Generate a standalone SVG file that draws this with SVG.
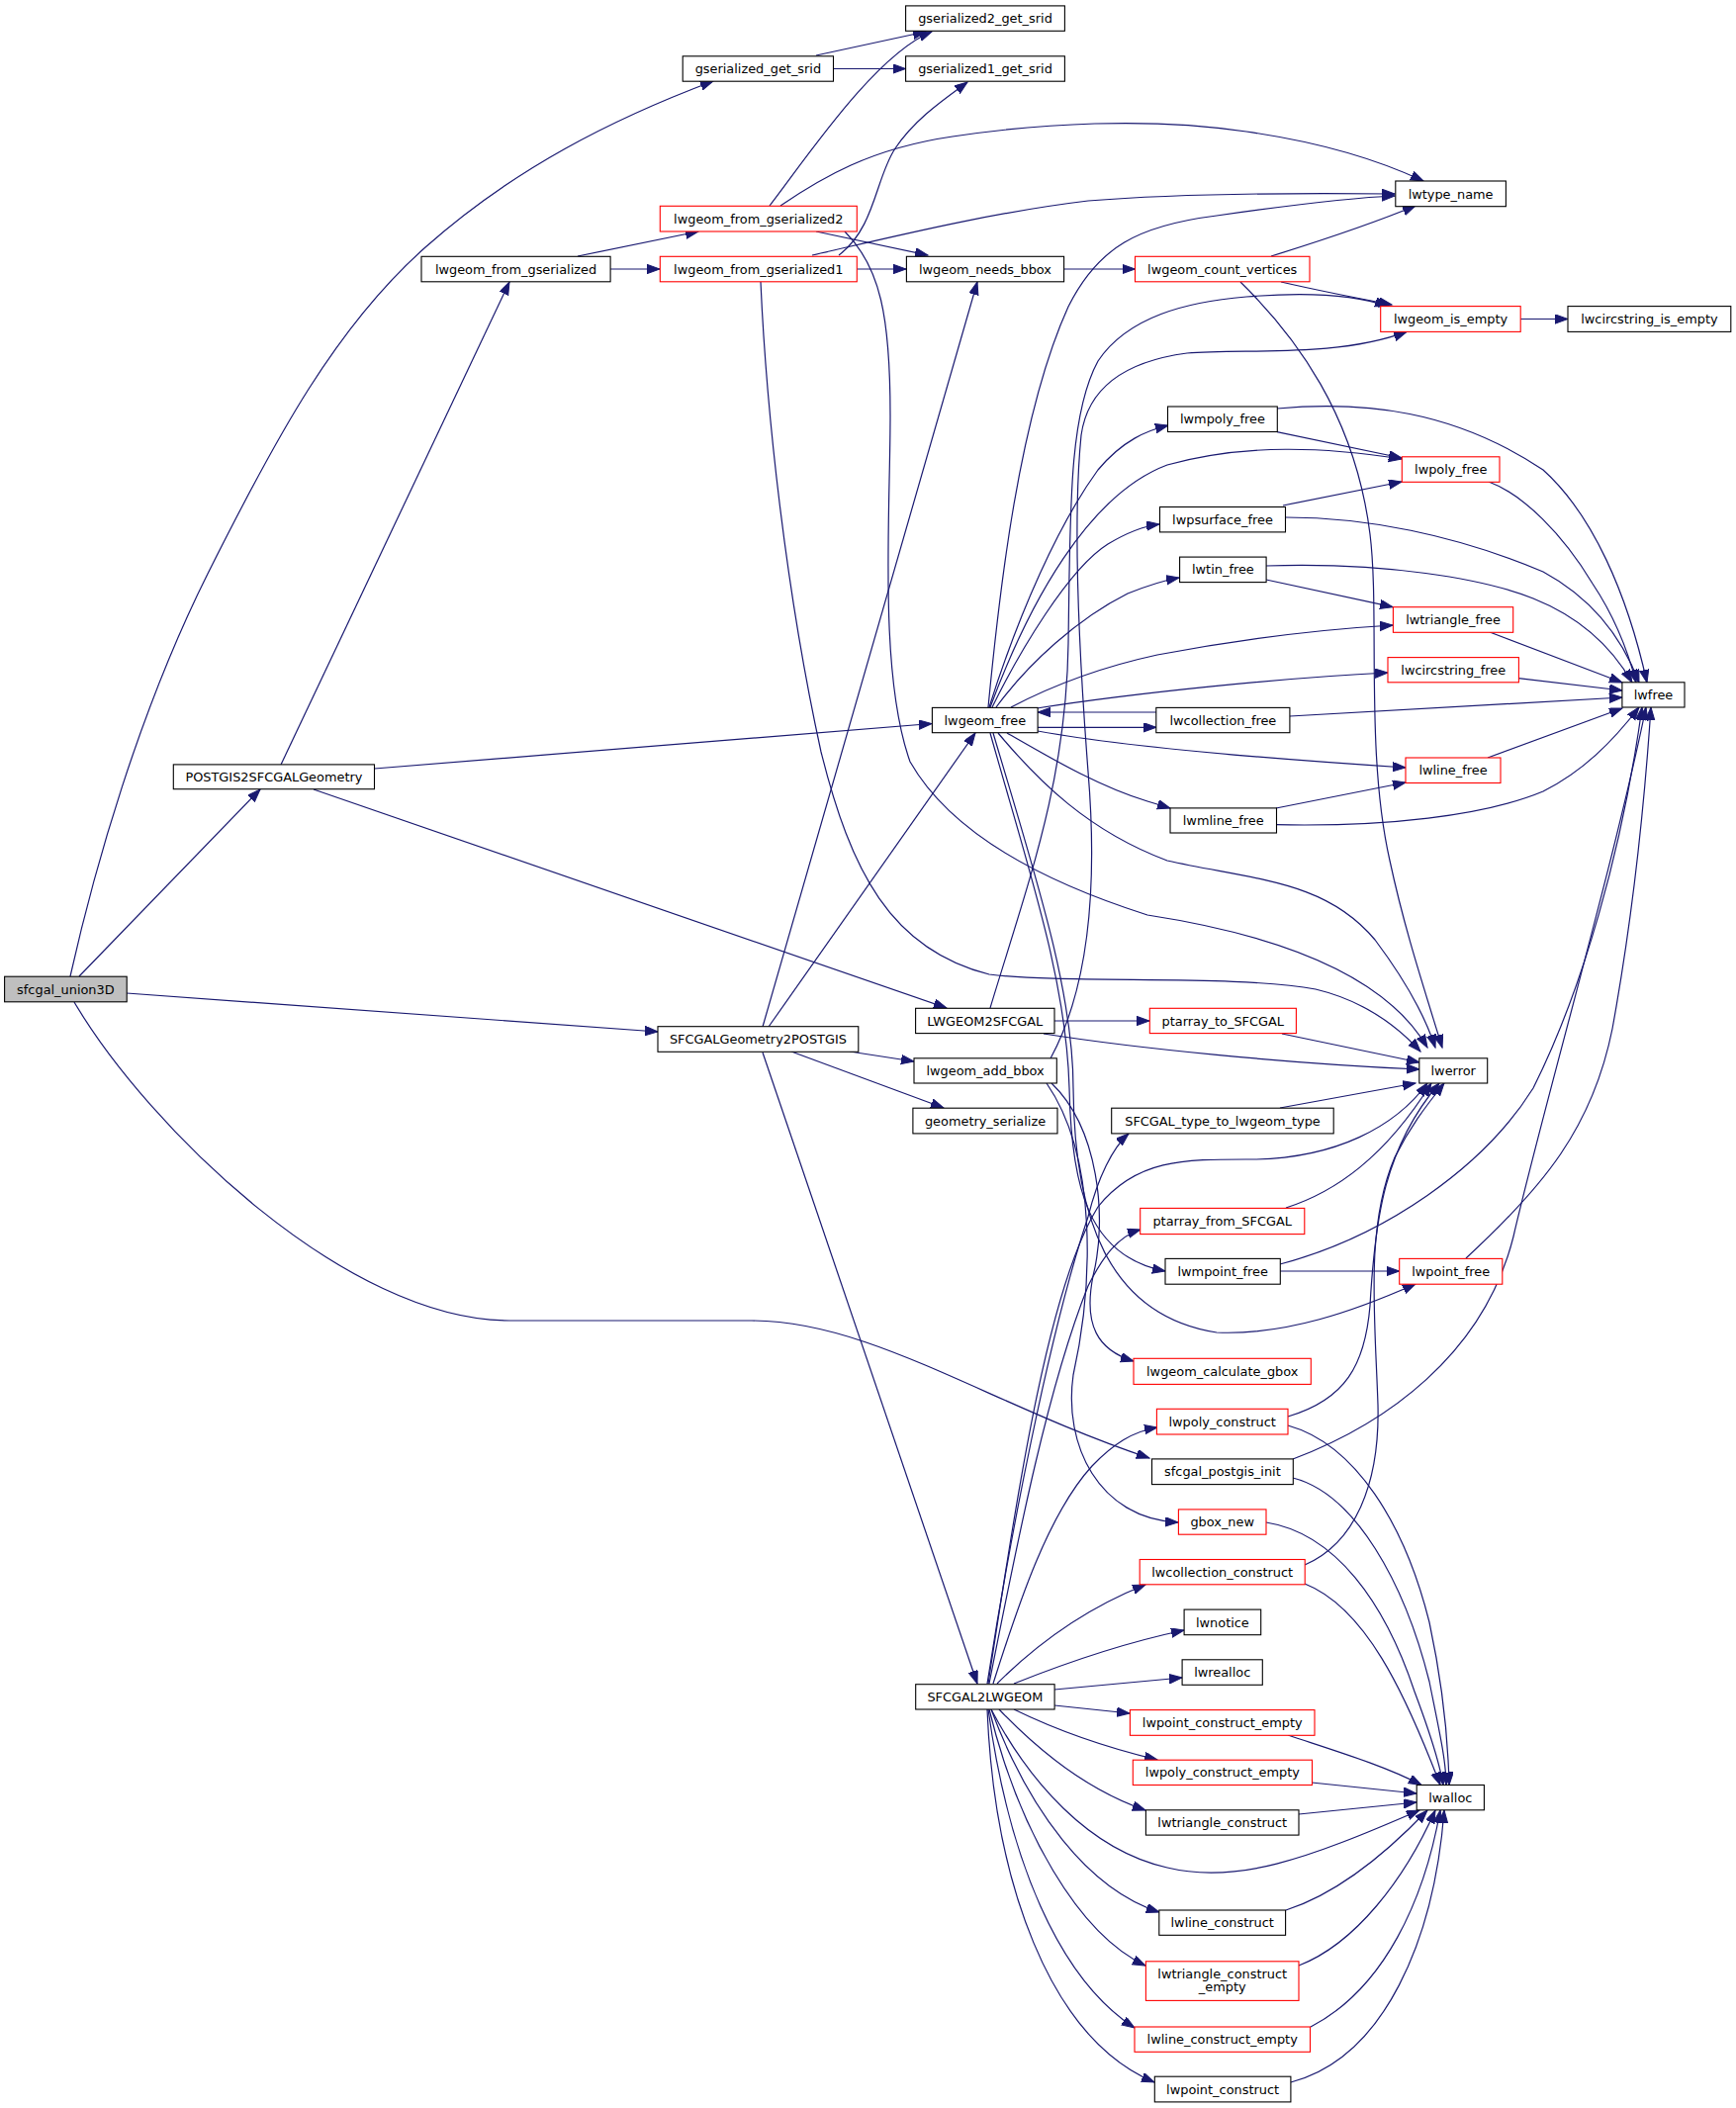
<svg xmlns="http://www.w3.org/2000/svg" width="1755" height="2131" viewBox="0 0 1755 2131">
<defs>
<style>
.n rect{fill:#ffffff;stroke:#000000;stroke-width:1.1}
.n.t rect{stroke:#ff0000}
.n.r rect{fill:#bfbfbf}
text{font-family:"DejaVu Sans","Liberation Sans",sans-serif;font-size:12.9px;text-anchor:middle;fill:#000000}
.e path{fill:none;stroke:#191970;stroke-width:1.2;marker-end:url(#a)}
</style>
<marker id="a" markerUnits="userSpaceOnUse" markerWidth="16" markerHeight="12" refX="13" refY="4.7" orient="auto">
<path d="M0,0 L13,4.7 L0,9.4 Z" fill="#191970" stroke="#191970" stroke-width="1"/>
</marker>
</defs>
<rect width="1755" height="2131" fill="#ffffff"/>
<g id="edges" class="e">
<path d="M71,987 C95,880 140,720 210,580 C280,440 340,330 430,250 C520,170 620,120 721,82"/>
<path d="M80,987 L263,798"/>
<path d="M128,1004 L665,1043"/>
<path d="M75,1013 C150,1140 350,1335 515,1335 L760,1335 C880,1335 1000,1420 1162,1474"/>
<path d="M284,773 L515,285"/>
<path d="M378.5,777 L942,731.5"/>
<path d="M317,798 L957,1019"/>
<path d="M584,259 L706,234"/>
<path d="M617,272 L667,272"/>
<path d="M778,208 C815,160 885,55 942,32"/>
<path d="M789,208 C830,180 880,150 963,138 C1050,125 1160,118 1260,133 C1330,143 1390,160 1439,183"/>
<path d="M825,234 L938,258"/>
<path d="M854,234 C890,270 900,320 900,420 C900,520 888,680 920,770 C960,840 1050,890 1160,925 C1290,945 1400,985 1443,1059"/>
<path d="M848,258 C885,230 885,180 905,150 C925,120 955,100 978,83"/>
<path d="M821,258 C900,240 1000,215 1100,203 C1200,195 1320,195 1410,196"/>
<path d="M866,272 L916,272"/>
<path d="M769,285 C775,420 795,600 830,760 C860,880 900,960 1000,985 C1080,995 1250,985 1330,1000 C1380,1012 1415,1040 1436,1063"/>
<path d="M825,56 L936,32"/>
<path d="M842.5,69.5 L915.6,69.5"/>
<path d="M1075.6,272 L1147.5,272"/>
<path d="M1285,259 C1330,245 1390,225 1431,208"/>
<path d="M1295,285 C1330,293 1370,301 1407,308"/>
<path d="M1254,285 C1310,340 1370,420 1385,540 C1395,620 1380,760 1405,870 C1420,940 1440,1000 1458,1059"/>
<path d="M1537,322.5 L1585,322.5"/>
<path d="M999,715 C1010,600 1030,420 1080,310 C1110,250 1150,228 1230,218 C1300,208 1360,200 1410,198"/>
<path d="M1000,715 C1030,620 1070,530 1110,475 C1135,445 1160,435 1181,430"/>
<path d="M1001,715 C1040,610 1100,500 1180,470 C1260,448 1340,452 1417,464"/>
<path d="M1003,715 C1030,660 1080,575 1120,550 C1140,538 1155,532 1172,530"/>
<path d="M1007,715 C1040,670 1090,625 1140,600 C1160,592 1175,587 1192,584"/>
<path d="M1022,715 C1060,695 1110,675 1170,662 C1260,645 1340,636 1408,632"/>
<path d="M1048,716 C1150,700 1300,685 1403,680"/>
<path d="M1169,720 L1049,720"/>
<path d="M1049,735.3 L1169,735.3"/>
<path d="M1049,739 C1120,752 1250,765 1421,776"/>
<path d="M1018,741 C1060,765 1110,795 1160,810 L1183,817"/>
<path d="M1009,741 C1050,790 1100,840 1180,870 C1270,890 1340,890 1390,950 C1420,990 1440,1025 1451,1059"/>
<path d="M1001,741 C1040,880 1078,990 1081,1100 C1083,1200 1100,1270 1178,1285"/>
<path d="M1004,741 C1045,880 1085,1000 1085,1100 C1086,1230 1120,1330 1230,1347 C1300,1350 1370,1325 1431,1298"/>
<path d="M1291,436.6 L1417,463"/>
<path d="M1291,413 C1380,405 1470,415 1560,475 C1610,520 1645,600 1665,690"/>
<path d="M1297,511 L1417,487"/>
<path d="M1300,523 C1380,523 1470,540 1560,578 C1610,605 1640,645 1657,690"/>
<path d="M1505,487 C1540,500 1580,540 1610,590 C1630,620 1645,655 1654,690"/>
<path d="M1280,572 C1400,568 1500,585 1550,605 C1600,625 1630,655 1650,690"/>
<path d="M1280,586 L1408,613.7"/>
<path d="M1506,639 L1640,690"/>
<path d="M1535,685.6 L1640,698"/>
<path d="M1304,724 L1640,705"/>
<path d="M1504,766 L1640,716"/>
<path d="M1290,833.7 C1400,836 1500,825 1560,800 C1600,780 1630,750 1657,715"/>
<path d="M1290,817 L1421,791"/>
<path d="M1066,1032 L1162,1032"/>
<path d="M1055,1045 C1150,1060 1300,1075 1435,1081"/>
<path d="M1296,1045 L1435,1074"/>
<path d="M1001,1019 C1040,890 1078,790 1080,650 C1082,520 1080,420 1110,365 C1140,320 1200,305 1260,300 C1320,295 1370,298 1403,309.6"/>
<path d="M1062,1070 C1100,1000 1110,900 1100,780 C1090,650 1085,520 1093,440 C1100,390 1140,365 1200,357 C1260,352 1350,362 1422,335.4"/>
<path d="M771,1038 L988,285"/>
<path d="M777,1038 L986,741"/>
<path d="M859,1063 L924,1073"/>
<path d="M800,1063 L954,1120"/>
<path d="M771,1064 L988,1702"/>
<path d="M1063,1095 C1110,1140 1120,1230 1105,1290 C1095,1340 1110,1365 1146,1376"/>
<path d="M1058,1095 C1110,1170 1105,1300 1085,1390 C1075,1460 1110,1535 1191,1539"/>
<path d="M1294,1120 L1431,1095"/>
<path d="M1300,1221 C1350,1205 1400,1170 1447,1095"/>
<path d="M1302,1432 C1360,1415 1380,1380 1385,1320 C1390,1230 1400,1160 1455,1095"/>
<path d="M1319,1582 C1370,1560 1395,1500 1393,1420 C1390,1330 1380,1240 1410,1170 C1425,1140 1440,1120 1460,1095"/>
<path d="M1294,1285 L1414.7,1285"/>
<path d="M1294,1278 C1400,1250 1500,1180 1550,1100 C1600,1000 1640,860 1660,715"/>
<path d="M1482,1272 C1560,1200 1610,1140 1630,1040 C1650,930 1662,820 1669,715"/>
<path d="M1307,1475 C1400,1440 1500,1370 1530,1250 C1560,1120 1630,880 1664,715"/>
<path d="M998,1702 C1020,1560 1060,1350 1100,1230 C1110,1190 1125,1160 1141,1146"/>
<path d="M999,1702 C1030,1500 1060,1300 1110,1220 C1150,1170 1200,1172 1270,1172 C1350,1170 1410,1140 1443,1095"/>
<path d="M1000,1702 C1030,1550 1060,1400 1100,1300 C1115,1270 1130,1250 1153,1243"/>
<path d="M1004,1702 C1030,1620 1060,1530 1104,1482 C1125,1460 1145,1447 1170,1443"/>
<path d="M1008,1702 C1050,1660 1100,1625 1158,1602"/>
<path d="M1025,1702 C1080,1680 1140,1660 1197,1648"/>
<path d="M1066,1708 L1195,1696"/>
<path d="M1066,1724 L1142,1732"/>
<path d="M1025,1728 C1070,1750 1120,1767 1170,1779"/>
<path d="M1010,1728 C1050,1770 1100,1810 1158,1830"/>
<path d="M1002,1728 C1040,1800 1100,1870 1180,1888 C1250,1905 1320,1880 1435,1830"/>
<path d="M1002,1728 C1040,1830 1100,1910 1172,1933"/>
<path d="M1000,1728 C1030,1850 1090,1955 1158,1987"/>
<path d="M999,1728 C1020,1880 1070,2000 1147,2050"/>
<path d="M998,1728 C1005,1900 1060,2060 1167,2105"/>
<path d="M1302,1754 C1350,1770 1400,1785 1437,1804.5"/>
<path d="M1326,1802 L1432,1813"/>
<path d="M1313,1834 L1432,1822"/>
<path d="M1300,1931 C1350,1915 1400,1875 1443,1830"/>
<path d="M1313,1987 C1370,1965 1420,1900 1451,1830"/>
<path d="M1325,2049 C1400,2010 1440,1920 1456,1830"/>
<path d="M1305,2105 C1400,2080 1450,1960 1460,1830"/>
<path d="M1302,1441 C1370,1460 1420,1540 1445,1640 C1460,1710 1464,1760 1465,1804.5"/>
<path d="M1307,1494 C1370,1510 1420,1600 1445,1700 C1455,1750 1462,1780 1462,1804.5"/>
<path d="M1280,1539 C1350,1550 1400,1620 1430,1710 C1445,1750 1455,1780 1459,1804.5"/>
<path d="M1319,1601 C1380,1625 1420,1710 1456,1804.5"/>
</g>
<g id="sfcgal_union3D" class="n r"><rect x="4.6" y="987.2" width="123.6" height="25.6"/><text x="66.4" y="1004.6">sfcgal_union3D</text></g>
<g id="gserialized_get_srid" class="n"><rect x="690.2" y="56.8" width="152.3" height="25.4"/><text x="766.4" y="74.1">gserialized_get_srid</text></g>
<g id="gserialized2_get_srid" class="n"><rect x="915.6" y="5.9" width="160.8" height="25.4"/><text x="996" y="23.2">gserialized2_get_srid</text></g>
<g id="gserialized1_get_srid" class="n"><rect x="915.6" y="56.8" width="160.8" height="25.4"/><text x="996" y="74.1">gserialized1_get_srid</text></g>
<g id="lwgeom_from_gserialized2" class="n t"><rect x="667.3" y="208.3" width="199" height="25.7"/><text x="766.8" y="225.8">lwgeom_from_gserialized2</text></g>
<g id="lwgeom_from_gserialized1" class="n t"><rect x="667.3" y="259.3" width="199" height="25.5"/><text x="766.8" y="276.6">lwgeom_from_gserialized1</text></g>
<g id="lwgeom_from_gserialized" class="n"><rect x="426" y="259.3" width="191.1" height="25.5"/><text x="521.5" y="276.6">lwgeom_from_gserialized</text></g>
<g id="lwgeom_needs_bbox" class="n"><rect x="916.4" y="259.3" width="159.2" height="25.5"/><text x="996" y="276.6">lwgeom_needs_bbox</text></g>
<g id="lwgeom_count_vertices" class="n t"><rect x="1147.5" y="259.3" width="176.5" height="25.5"/><text x="1235.7" y="276.6">lwgeom_count_vertices</text></g>
<g id="lwtype_name" class="n"><rect x="1410.8" y="183" width="111.6" height="25.7"/><text x="1466.6" y="200.5">lwtype_name</text></g>
<g id="lwgeom_is_empty" class="n t"><rect x="1395.7" y="309.6" width="141.5" height="25.8"/><text x="1466.5" y="327.1">lwgeom_is_empty</text></g>
<g id="lwcircstring_is_empty" class="n"><rect x="1585" y="309.6" width="164.8" height="25.8"/><text x="1667.4" y="327.1">lwcircstring_is_empty</text></g>
<g id="lwmpoly_free" class="n"><rect x="1180.5" y="411" width="110.8" height="25.5"/><text x="1235.9" y="428.3">lwmpoly_free</text></g>
<g id="lwpoly_free" class="n t"><rect x="1417.3" y="461.8" width="98.7" height="25.5"/><text x="1466.7" y="479.1">lwpoly_free</text></g>
<g id="lwpsurface_free" class="n"><rect x="1172.5" y="512.5" width="127" height="25.4"/><text x="1236" y="529.8">lwpsurface_free</text></g>
<g id="lwtin_free" class="n"><rect x="1192.6" y="563.1" width="87.5" height="25.5"/><text x="1236.4" y="580.4">lwtin_free</text></g>
<g id="lwtriangle_free" class="n t"><rect x="1408.4" y="613.7" width="121.3" height="25.6"/><text x="1469" y="631.1">lwtriangle_free</text></g>
<g id="lwcircstring_free" class="n t"><rect x="1403" y="664.6" width="132.4" height="25.2"/><text x="1469.2" y="681.8">lwcircstring_free</text></g>
<g id="lwfree" class="n"><rect x="1639.9" y="689.8" width="63.1" height="25.2"/><text x="1671.5" y="707">lwfree</text></g>
<g id="lwgeom_free" class="n"><rect x="942.4" y="715.4" width="106.7" height="25.3"/><text x="995.8" y="732.6">lwgeom_free</text></g>
<g id="lwcollection_free" class="n"><rect x="1168.8" y="715.4" width="135.1" height="25.3"/><text x="1236.4" y="732.6">lwcollection_free</text></g>
<g id="lwline_free" class="n t"><rect x="1421" y="766" width="96" height="25.5"/><text x="1469" y="783.3">lwline_free</text></g>
<g id="POSTGIS2SFCGALGeometry" class="n"><rect x="175.3" y="772.9" width="203.2" height="24.8"/><text x="276.9" y="789.9">POSTGIS2SFCGALGeometry</text></g>
<g id="lwmline_free" class="n"><rect x="1183" y="816.9" width="107.5" height="25.1"/><text x="1236.7" y="834">lwmline_free</text></g>
<g id="LWGEOM2SFCGAL" class="n"><rect x="925.6" y="1019.3" width="140.4" height="25.3"/><text x="995.8" y="1036.5">LWGEOM2SFCGAL</text></g>
<g id="ptarray_to_SFCGAL" class="n t"><rect x="1162.3" y="1019.3" width="148.1" height="25.3"/><text x="1236.3" y="1036.5">ptarray_to_SFCGAL</text></g>
<g id="SFCGALGeometry2POSTGIS" class="n"><rect x="665" y="1037.7" width="202.8" height="25.6"/><text x="766.4" y="1055.1">SFCGALGeometry2POSTGIS</text></g>
<g id="lwgeom_add_bbox" class="n"><rect x="924" y="1069.8" width="144.3" height="25.2"/><text x="996.1" y="1087">lwgeom_add_bbox</text></g>
<g id="lwerror" class="n"><rect x="1434.8" y="1069.8" width="68.9" height="25.2"/><text x="1469.2" y="1087">lwerror</text></g>
<g id="geometry_serialize" class="n"><rect x="922.9" y="1120.2" width="146.1" height="25.7"/><text x="996" y="1137.7">geometry_serialize</text></g>
<g id="SFCGAL_type_to_lwgeom_type" class="n"><rect x="1123.7" y="1120.2" width="224.5" height="25.7"/><text x="1236" y="1137.7">SFCGAL_type_to_lwgeom_type</text></g>
<g id="ptarray_from_SFCGAL" class="n t"><rect x="1152.7" y="1221.4" width="166.1" height="26.2"/><text x="1235.7" y="1239.1">ptarray_from_SFCGAL</text></g>
<g id="lwmpoint_free" class="n"><rect x="1178" y="1272.4" width="116.3" height="25.8"/><text x="1236.2" y="1289.9">lwmpoint_free</text></g>
<g id="lwpoint_free" class="n t"><rect x="1414.7" y="1272.4" width="104.1" height="25.8"/><text x="1466.7" y="1289.9">lwpoint_free</text></g>
<g id="lwgeom_calculate_gbox" class="n t"><rect x="1146" y="1373.3" width="179.3" height="26.1"/><text x="1235.7" y="1391">lwgeom_calculate_gbox</text></g>
<g id="lwpoly_construct" class="n t"><rect x="1169.4" y="1424.3" width="132.6" height="25.7"/><text x="1235.7" y="1441.8">lwpoly_construct</text></g>
<g id="sfcgal_postgis_init" class="n"><rect x="1164.5" y="1474.9" width="142.8" height="25.7"/><text x="1235.9" y="1492.4">sfcgal_postgis_init</text></g>
<g id="gbox_new" class="n t"><rect x="1191.4" y="1525.9" width="88.6" height="25.3"/><text x="1235.7" y="1543.1">gbox_new</text></g>
<g id="lwcollection_construct" class="n t"><rect x="1152.2" y="1576.5" width="167" height="25.3"/><text x="1235.7" y="1593.7">lwcollection_construct</text></g>
<g id="lwnotice" class="n"><rect x="1197.1" y="1627.1" width="77.6" height="25.6"/><text x="1235.9" y="1644.5">lwnotice</text></g>
<g id="lwrealloc" class="n"><rect x="1195.1" y="1677.8" width="81.2" height="25.5"/><text x="1235.7" y="1695.1">lwrealloc</text></g>
<g id="SFCGAL2LWGEOM" class="n"><rect x="925.7" y="1702.7" width="140.4" height="25.3"/><text x="995.9" y="1719.9">SFCGAL2LWGEOM</text></g>
<g id="lwpoint_construct_empty" class="n t"><rect x="1142.4" y="1728.6" width="186.6" height="25.7"/><text x="1235.7" y="1746.1">lwpoint_construct_empty</text></g>
<g id="lwpoly_construct_empty" class="n t"><rect x="1145.3" y="1779.2" width="181.2" height="25.3"/><text x="1235.9" y="1796.4">lwpoly_construct_empty</text></g>
<g id="lwalloc" class="n"><rect x="1432.2" y="1804.5" width="68.2" height="25.3"/><text x="1466.3" y="1821.7">lwalloc</text></g>
<g id="lwtriangle_construct" class="n"><rect x="1158.4" y="1829.8" width="154.6" height="25.3"/><text x="1235.7" y="1847">lwtriangle_construct</text></g>
<g id="lwline_construct" class="n"><rect x="1171.8" y="1931" width="127.8" height="25.3"/><text x="1235.7" y="1948.2">lwline_construct</text></g>
<g id="lwtriangle_construct_empty" class="n t"><rect x="1158.4" y="1982.8" width="154.6" height="39.6"/><text x="1235.7" y="1999.6">lwtriangle_construct</text><text x="1235.7" y="2013.4">_empty</text></g>
<g id="lwline_construct_empty" class="n t"><rect x="1147" y="2049" width="177.5" height="25.3"/><text x="1235.7" y="2066.2">lwline_construct_empty</text></g>
<g id="lwpoint_construct" class="n"><rect x="1167.3" y="2099.2" width="137.6" height="25.7"/><text x="1236.1" y="2116.7">lwpoint_construct</text></g>
</svg>
